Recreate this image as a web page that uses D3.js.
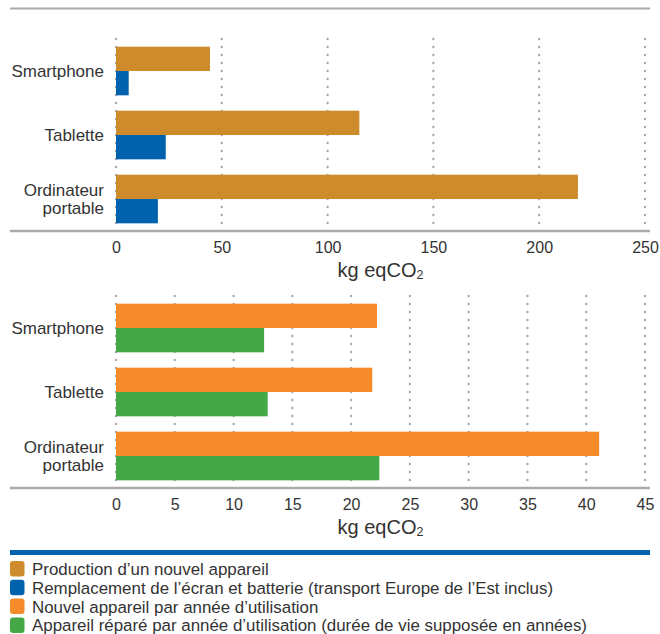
<html lang="fr">
<head>
    <meta charset="utf-8">
    <title>Empreinte carbone</title>
    <style>
        body { margin: 0; background: white; }
        svg { display: block; font-family: "Liberation Sans", Arial, sans-serif; }
        .tick-label { fill: #333; font-size: 16px; }
        .cat-label { fill: #333; font-size: 17px; }
        .axis-title { fill: #333; font-size: 20px; }
        .legend-text { fill: #333; font-size: 16.9px; }
    </style>
</head>
<body>
<script src="https://d3js.org/d3.v7.min.js"></script>
<script type="text/javascript">
    // Data
    var categories = ["Smartphone", "Tablette", "Ordinateur portable"];
    var production = [44.4, 115, 218.3];
    var remplacement = [6, 23.5, 19.8];
    var nouvelParAn = [22.2, 21.8, 41.1];
    var repareParAn = [12.6, 12.9, 22.4];
    var ticksTop = [0, 50, 100, 150, 200, 250];
    var ticksBottom = [0, 5, 10, 15, 20, 25, 30, 35, 40, 45];
    var legendLabels = [
        "Production d\u2019un nouvel appareil",
        "Remplacement de l\u2019\u00e9cran et batterie (transport Europe de l\u2019Est inclus)",
        "Nouvel appareil par ann\u00e9e d\u2019utilisation",
        "Appareil r\u00e9par\u00e9 par ann\u00e9e d\u2019utilisation (dur\u00e9e de vie suppos\u00e9e en ann\u00e9es)"
    ];

    var colors = ["#cd8b2c", "#0061ad", "#f58b2a", "#43a845"];

    var width = 660;
    var height = 634;
    var left = 116;
    var right = 645;
    var lineLeft = 10;
    var lineRight = 650;

    var svg = d3.select("body").append("svg")
        .attr("width", width)
        .attr("height", height);

    // top rule
    svg.append("line")
        .attr("x1", lineLeft).attr("x2", lineRight)
        .attr("y1", 8.5).attr("y2", 8.5)
        .attr("stroke", "#aaa").attr("stroke-width", 2);

    function draw_panel(top, bottom, seriesA, seriesB, colA, colB, maxVal, ticks) {
        var x = d3.scaleLinear().domain([0, maxVal]).range([left, right]);
        var y = d3.scaleBand().domain(categories).range([top, bottom])
            .paddingInner(0.24).paddingOuter(0.12);

        var g = svg.append("g");

        // dotted gridlines
        g.selectAll(".grid").data(ticks).enter().append("line")
            .attr("x1", function(d) { return x(d); })
            .attr("x2", function(d) { return x(d); })
            .attr("y1", top).attr("y2", bottom)
            .attr("stroke", "#a8a8a8")
            .attr("stroke-width", 2.4)
            .attr("stroke-linecap", "round")
            .attr("stroke-dasharray", "0,8");

        var half = y.bandwidth() / 2;

        g.selectAll(".barA").data(categories).enter().append("rect")
            .attr("x", x(0))
            .attr("y", function(d) { return y(d); })
            .attr("width", function(d, i) { return x(seriesA[i]) - x(0); })
            .attr("height", half)
            .attr("fill", colA);

        g.selectAll(".barB").data(categories).enter().append("rect")
            .attr("x", x(0))
            .attr("y", function(d) { return y(d) + half; })
            .attr("width", function(d, i) { return x(seriesB[i]) - x(0); })
            .attr("height", half)
            .attr("fill", colB);

        // axis line
        g.append("line")
            .attr("x1", lineLeft).attr("x2", lineRight)
            .attr("y1", bottom).attr("y2", bottom)
            .attr("stroke", "#aaa").attr("stroke-width", 2.5);

        // tick labels
        var axis = d3.axisBottom(x).tickValues(ticks).tickSize(0).tickPadding(0);
        var ag = g.append("g").attr("transform", "translate(0," + (bottom + 21.5) + ")").call(axis);
        ag.select(".domain").remove();
        ag.selectAll("text")
            .attr("class", "tick-label")
            .attr("dy", 0)
            .attr("font-family", null)
            .attr("font-size", null)
            .attr("fill", null);
        ag.attr("font-size", null).attr("font-family", null);

        // category labels
        g.selectAll(".cat").data(categories).enter().append("text")
            .attr("class", "cat-label")
            .attr("text-anchor", "end")
            .attr("x", 104)
            .attr("y", function(d) { return y(d) + half; })
            .each(function(d) {
                var t = d3.select(this);
                var words = d === "Ordinateur portable" ? ["Ordinateur", "portable"] : [d];
                if (words.length === 1) {
                    t.append("tspan").attr("x", 104).attr("dy", "0.35em").text(words[0]);
                } else {
                    t.append("tspan").attr("x", 104).attr("dy", "-0.16em").text(words[0]);
                    t.append("tspan").attr("x", 104).attr("dy", "1.02em").text(words[1]);
                }
            });

        // axis title
        var title = g.append("text")
            .attr("class", "axis-title")
            .attr("text-anchor", "middle")
            .attr("x", (left + right) / 2)
            .attr("y", bottom + 46);
        title.append("tspan").text("kg eqCO");
        title.append("tspan").attr("font-size", "12.5px").attr("dy", "2").text("2");
    }

    draw_panel(39, 231, production, remplacement, colors[0], colors[1], 250, ticksTop);
    draw_panel(296, 488, nouvelParAn, repareParAn, colors[2], colors[3], 45, ticksBottom);

    // blue separator
    svg.append("line")
        .attr("x1", lineLeft).attr("x2", lineRight)
        .attr("y1", 552.5).attr("y2", 552.5)
        .attr("stroke", colors[1]).attr("stroke-width", 5);

    // legend
    var legend = svg.selectAll(".legend").data(legendLabels).enter().append("g")
        .attr("transform", function(d, i) { return "translate(10," + (561 + i * 18.8) + ")"; });

    legend.append("rect")
        .attr("width", 14.5).attr("height", 15.5)
        .attr("rx", 3).attr("ry", 3)
        .attr("fill", function(d, i) { return colors[i]; });

    legend.append("text")
        .attr("class", "legend-text")
        .attr("x", 22)
        .attr("y", 8)
        .attr("dy", "0.35em")
        .text(function(d) { return d; });
</script>
</body>
</html>
